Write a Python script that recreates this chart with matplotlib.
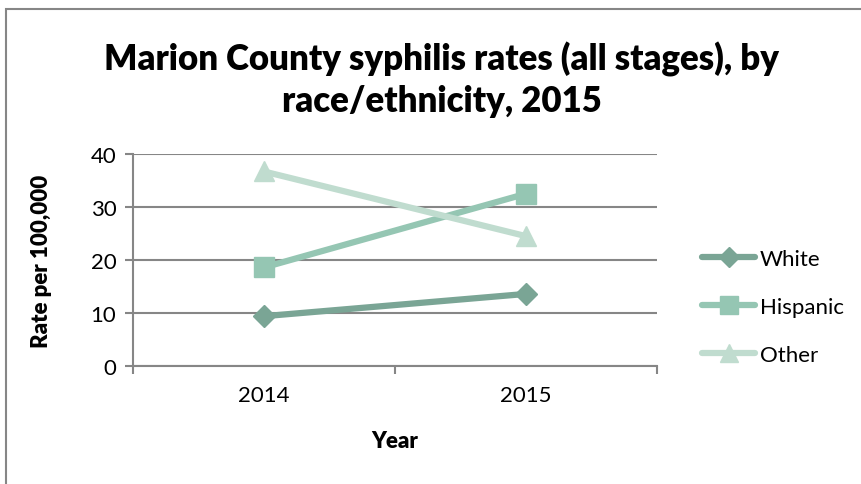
import matplotlib.pyplot as plt
from matplotlib.patches import Rectangle
from matplotlib.lines import Line2D

years = ['2014', '2015']
white = [9.4, 13.6]
hispanic = [18.6, 32.5]
other = [36.7, 24.5]
series_names = ['White', 'Hispanic', 'Other']
y_ticks = [0, 10, 20, 30, 40]

colors = ['#7aa595', '#95c6b3', '#c0dccf']
markers = ['D', 's', '^']
msizes = [11, 14, 14]

plt.rcParams['font.family'] = ['Lato', 'DejaVu Sans']

fig = plt.figure(figsize=(8.62, 4.85), dpi=100)
W, H = 862, 485
ax = fig.add_axes([133 / W, 1 - 367 / H, (657 - 133) / W, (367 - 155) / H])

x = list(range(len(years)))
for vals, name, c, m, ms in zip([white, hispanic, other], series_names, colors, markers, msizes):
    ax.plot(x, vals, color=c, lw=4.5, marker=m, markersize=ms, label=name,
            solid_capstyle='round', zorder=3)

ax.set_xlim(-0.5, 1.5)
ax.set_ylim(0, 40)
ax.set_yticks(y_ticks)
ax.set_xticks(x)
ax.set_xticklabels(years)
ax.set_xticks([-0.5, 0.5, 1.5], minor=True)
ax.tick_params(axis='x', which='major', length=0, pad=14, labelsize=16)
ax.tick_params(axis='x', which='minor', length=6, width=1.5, color='#868686', direction='out')
ax.tick_params(axis='y', length=6, width=1.5, color='#868686', labelsize=16, pad=6)
ax.grid(axis='y', color='#868686', lw=1.5, zorder=0)
for s in ['top', 'right']:
    ax.spines[s].set_visible(False)
for s in ['left', 'bottom']:
    ax.spines[s].set_color('#868686')
    ax.spines[s].set_linewidth(1.5)

ax.set_ylabel('Rate per 100,000', fontsize=16, fontweight='heavy', labelpad=28)
ax.set_xlabel('Year', fontsize=16, fontweight='heavy', labelpad=18)

fig.text(442 / W, 1 - 80 / H, 'Marion County syphilis rates (all stages), by\nrace/ethnicity, 2015',
         ha='center', va='center', fontsize=25, fontweight='heavy', linespacing=1.3)

handles = [Line2D([0], [0], color=c, lw=4.5, marker=m, markersize=ms * 0.9, solid_capstyle='round')
           for c, m, ms in zip(colors, markers, msizes)]
fig.legend(handles, series_names, loc='upper left', bbox_to_anchor=(682 / W, 1 - 230 / H),
           frameon=False, fontsize=16, handlelength=2.4, labelspacing=1.25, handletextpad=0.2)

fig.patches.append(Rectangle((6 / W, -0.1), 1.2, 1 - 10 / H + 0.1, transform=fig.transFigure,
                             fill=False, edgecolor='#868686', lw=1.5))

fig.savefig('out.png', dpi=100)
